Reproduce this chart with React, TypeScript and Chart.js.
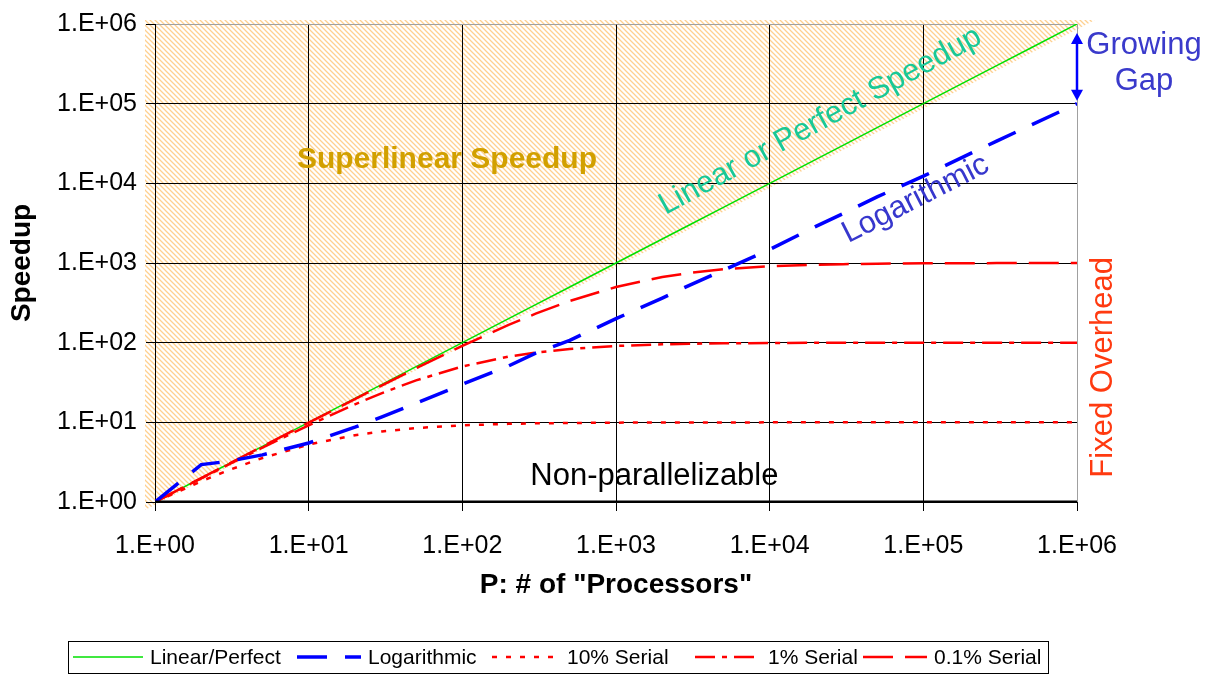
import React, { useEffect, useRef } from 'react';
import { Chart, registerables } from 'chart.js';

Chart.register(...registerables);

const FONT = "'Liberation Sans', Arial, Helvetica, sans-serif";

// Number of processors (x) sampled on a 1-2-3-5 grid per decade
const processors = [1, 2, 3, 5, 10, 20, 30, 50, 100, 200, 300, 500, 1e3, 2e3, 3e3, 5e3, 1e4, 2e4, 3e4, 5e4, 1e5, 2e5, 3e5, 5e5, 1e6];

// Speedup series
const linearSpeedup = [1, 2, 3, 5, 10, 20, 30, 50, 100, 200, 300, 500, 1e3, 2e3, 3e3, 5e3, 1e4, 2e4, 3e4, 5e4, 1e5, 2e5, 3e5, 5e5, 1e6];
const logarithmicSpeedup = [1, 2.95, 3.24, 3.9, 5.5, 8.7, 11.7, 17.4, 30, 51, 74, 107, 200, 363, 525, 813, 1480, 2880, 4170, 6760, 12300, 23400, 33900, 53700, 100000];
const serial10Speedup = [1, 1.82, 2.5, 3.57, 5.26, 6.9, 7.69, 8.47, 9.17, 9.57, 9.71, 9.82, 9.91, 9.96, 9.97, 9.98, 9.99, 10, 10, 10, 10, 10, 10, 10, 10];
const serial1Speedup = [1, 1.98, 2.94, 4.81, 9.17, 16.8, 23.3, 33.6, 50.3, 66.9, 75.2, 83.5, 91, 95.2, 96.8, 98.1, 99, 99.5, 99.7, 99.8, 99.9, 100, 100, 100, 100];
const serial01Speedup = [1, 2, 2.99, 4.98, 9.91, 19.6, 29.1, 47.7, 91, 167, 231, 334, 500, 667, 750, 834, 909, 952, 968, 980, 990, 995, 997, 998, 999];
const nonParallelSpeedup = [1, 1, 1, 1, 1, 1, 1, 1, 1, 1, 1, 1, 1, 1, 1, 1, 1, 1, 1, 1, 1, 1, 1, 1, 1];

// Axis ticks
const decadeTicks = [1, 10, 100, 1e3, 1e4, 1e5, 1e6];
const xTickLabels = ['1.E+00', '1.E+01', '1.E+02', '1.E+03', '1.E+04', '1.E+05', '1.E+06'];
const yTickLabels = ['1.E+00', '1.E+01', '1.E+02', '1.E+03', '1.E+04', '1.E+05', '1.E+06'];

const seriesNames = ['Linear/Perfect', 'Logarithmic', '10% Serial', '1% Serial', '0.1% Serial'];

const toPoints = (ys: number[]) => processors.map((p, i) => ({ x: p, y: ys[i] }));

// Diagonal hatch over the region above the perfect-speedup line
const hatchPlugin = {
  id: 'superlinearHatch',
  beforeDraw(chart: any) {
    const { ctx, scales } = chart;
    const sx = scales.x;
    const sy = scales.y;
    const last = processors.length - 1;
    const x0 = sx.getPixelForValue(processors[0]);
    const y0 = sy.getPixelForValue(linearSpeedup[0]);
    const x1 = sx.getPixelForValue(processors[last]);
    const y1 = sy.getPixelForValue(linearSpeedup[last]);

    const tile = document.createElement('canvas');
    tile.width = 5;
    tile.height = 5;
    const t = tile.getContext('2d')!;
    t.strokeStyle = 'rgba(255, 190, 100, 0.72)';
    t.lineWidth = 1.25;
    t.beginPath();
    t.moveTo(-1, -1); t.lineTo(6, 6);
    t.moveTo(-1, 4); t.lineTo(1, 6);
    t.moveTo(4, -1); t.lineTo(6, 1);
    t.stroke();
    const pattern = ctx.createPattern(tile, 'repeat');

    ctx.save();
    ctx.fillStyle = pattern;
    ctx.beginPath();
    ctx.moveTo(x0 - 10, y0 + 8);
    ctx.lineTo(x0 - 10, y1 - 4);
    ctx.lineTo(x1 + 18, y1 - 4);
    ctx.closePath();
    ctx.fill();
    ctx.restore();
  },
};

// Text notes and the gap arrow
const notesPlugin = {
  id: 'speedupNotes',
  afterDatasetsDraw(chart: any) {
    const { ctx, chartArea: area, scales } = chart;
    const px = (v: number) => scales.x.getPixelForValue(v);
    const py = (v: number) => scales.y.getPixelForValue(v);

    const rotated = (text: string, x: number, y: number, angle: number) => {
      ctx.save();
      ctx.translate(x, y);
      ctx.rotate(angle);
      ctx.fillText(text, 0, 0);
      ctx.restore();
    };

    ctx.save();
    ctx.textAlign = 'center';
    ctx.textBaseline = 'middle';

    ctx.font = `bold 30px ${FONT}`;
    ctx.fillStyle = '#D2A000';
    ctx.fillText('Superlinear Speedup', px(10 ** 1.9), py(10 ** 4.3));

    ctx.font = `31px ${FONT}`;
    ctx.fillStyle = '#19C896';
    rotated('Linear or Perfect Speedup', px(10 ** 4.33), py(10 ** 4.78), (-28.5 * Math.PI) / 180);

    ctx.fillStyle = '#3737CD';
    rotated('Logarithmic', px(10 ** 4.95), py(10 ** 3.8), (-27 * Math.PI) / 180);

    ctx.fillStyle = '#000000';
    ctx.fillText('Non-parallelizable', px(10 ** 3.25), py(10 ** 0.32));

    ctx.fillStyle = '#FF3A10';
    rotated('Fixed Overhead', area.right + 26, py(10 ** 1.69), -Math.PI / 2);

    ctx.fillStyle = '#3A3ACB';
    ctx.fillText('Growing', area.right + 67, area.top + 21);
    ctx.fillText('Gap', area.right + 67, area.top + 57);

    // double-headed arrow between perfect and logarithmic at P = 1e6
    const ax = px(1e6);
    const top = py(1e6) + 9;
    const bot = py(1e5) - 3;
    ctx.strokeStyle = '#0000FF';
    ctx.fillStyle = '#0000FF';
    ctx.lineWidth = 2.5;
    ctx.beginPath();
    ctx.moveTo(ax, top + 8);
    ctx.lineTo(ax, bot - 8);
    ctx.stroke();
    ctx.beginPath();
    ctx.moveTo(ax, top);
    ctx.lineTo(ax - 6, top + 11);
    ctx.lineTo(ax + 6, top + 11);
    ctx.closePath();
    ctx.fill();
    ctx.beginPath();
    ctx.moveTo(ax, bot);
    ctx.lineTo(ax - 6, bot - 11);
    ctx.lineTo(ax + 6, bot - 11);
    ctx.closePath();
    ctx.fill();
    ctx.restore();
  },
};

// Boxed legend under the x-axis title
const legendBoxPlugin = {
  id: 'legendBox',
  afterDraw(chart: any) {
    const { ctx } = chart;
    const boxLeft = 68;
    const boxTop = 641;
    const boxWidth = 980;
    const boxHeight = 32;
    const sampleX = [73, 297, 492, 695, 863];
    const sampleLen = [70, 64, 66, 66, 64];
    const textX = [150, 368, 567, 768, 934];
    const cy = boxTop + boxHeight / 2;

    ctx.save();
    ctx.strokeStyle = '#000';
    ctx.lineWidth = 1;
    ctx.setLineDash([]);
    ctx.strokeRect(boxLeft + 0.5, boxTop + 0.5, boxWidth, boxHeight);

    ctx.font = `21px ${FONT}`;
    ctx.textAlign = 'left';
    ctx.textBaseline = 'middle';
    const items = chart.data.datasets.filter((d: any) => seriesNames.includes(d.label));
    items.forEach((ds: any, i: number) => {
      const sx = sampleX[i];
      ctx.save();
      ctx.strokeStyle = ds.borderColor;
      ctx.lineWidth = ds.borderWidth;
      ctx.lineCap = 'butt';
      ctx.setLineDash(ds.borderDash || []);
      ctx.beginPath();
      ctx.moveTo(sx, cy);
      ctx.lineTo(sx + sampleLen[i], cy);
      ctx.stroke();
      ctx.restore();
      ctx.fillStyle = '#000';
      ctx.fillText(ds.label, textX[i], cy + 1);
    });
    ctx.restore();
  },
};

const decadeScale = (labels: string[]) => ({
  type: 'logarithmic' as const,
  min: 1,
  max: 1e6,
  afterBuildTicks: (scale: any) => {
    scale.ticks = decadeTicks.map((v) => ({ value: v }));
  },
  ticks: {
    callback: (_v: any, i: number) => labels[i],
    autoSkip: false,
    maxRotation: 0,
    minRotation: 0,
    color: '#000',
    font: { family: FONT, size: 25 },
    major: { enabled: false },
  },
  grid: {
    color: (c: any) => (c.index === decadeTicks.length - 1 ? '#a0a0a0' : '#000'),
    lineWidth: 1,
    tickLength: 9,
    tickColor: '#000',
  },
  border: { color: '#000', width: 1 },
});

export default function App() {
  const canvasRef = useRef<HTMLCanvasElement | null>(null);

  useEffect(() => {
    document.body.style.margin = '0';
    const canvas = canvasRef.current;
    if (!canvas) return;

    const xScale: any = decadeScale(xTickLabels);
    xScale.afterFit = (s: any) => { s.height = 113; };
    xScale.ticks.padding = 20;
    xScale.title = {
      display: true,
      text: 'P: # of "Processors"',
      color: '#000',
      font: { family: FONT, size: 28, weight: 'bold' },
      padding: { top: 0, bottom: 13 },
    };

    const yScale: any = decadeScale(yTickLabels);
    yScale.afterFit = (s: any) => { s.width = 155; };
    yScale.ticks.padding = 9;
    yScale.title = {
      display: true,
      text: 'Speedup',
      color: '#000',
      font: { family: FONT, size: 28, weight: 'bold' },
      padding: { top: 5, bottom: 0 },
    };

    const chart = new Chart(canvas, {
      type: 'line',
      data: {
        datasets: [
          {
            label: seriesNames[0],
            data: toPoints(linearSpeedup),
            borderColor: '#00E000',
            borderWidth: 1.5,
            pointRadius: 0,
            order: 6,
          },
          {
            label: seriesNames[1],
            data: toPoints(logarithmicSpeedup),
            borderColor: '#0000FF',
            borderWidth: 3.5,
            borderDash: [30, 18],
            pointRadius: 0,
            order: 2,
          },
          {
            label: seriesNames[2],
            data: toPoints(serial10Speedup),
            borderColor: '#FF0000',
            borderWidth: 2.5,
            borderDash: [5, 9],
            pointRadius: 0,
            order: 3,
          },
          {
            label: seriesNames[3],
            data: toPoints(serial1Speedup),
            borderColor: '#FF0000',
            borderWidth: 2.5,
            borderDash: [20, 7, 5, 7],
            pointRadius: 0,
            order: 4,
          },
          {
            label: seriesNames[4],
            data: toPoints(serial01Speedup),
            borderColor: '#FF0000',
            borderWidth: 2.5,
            borderDash: [30, 12],
            pointRadius: 0,
            order: 5,
          },
          {
            label: 'Non-parallelizable',
            data: toPoints(nonParallelSpeedup),
            borderColor: '#000000',
            borderWidth: 3,
            pointRadius: 0,
            order: 1,
          },
        ],
      },
      options: {
        animation: false,
        responsive: true,
        maintainAspectRatio: false,
        layout: { padding: { left: 0, top: 20, right: 137, bottom: 60 } },
        plugins: {
          legend: { display: false },
          tooltip: { enabled: false },
        },
        elements: { line: { tension: 0, borderCapStyle: 'butt' } },
        scales: { x: xScale, y: yScale },
      },
      plugins: [hatchPlugin, notesPlugin, legendBoxPlugin],
    });

    return () => chart.destroy();
  }, []);

  return (
    <div style={{ position: 'relative', width: '1214px', height: '675px', background: '#fff' }}>
      <canvas ref={canvasRef} />
    </div>
  );
}
